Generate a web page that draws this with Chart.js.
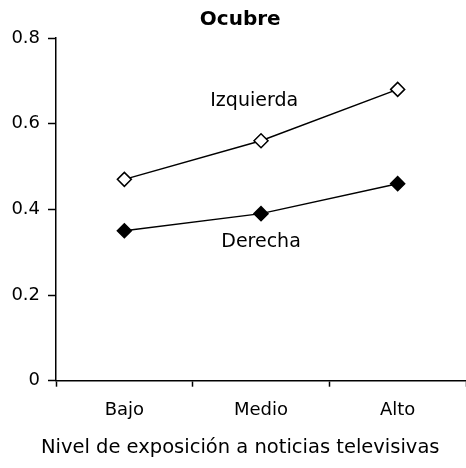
<!DOCTYPE html>
<html lang="es">

<head>
	<meta charset="UTF-8">
	<meta name="viewport" content="width=device-width, initial-scale=1.0">
	<title>Ocubre</title>
	<script src="https://cdn.jsdelivr.net/npm/chart.js"></script>
	<style>
		html, body {
			margin: 0;
			padding: 0;
			background: #ffffff;
		}

		.grafico {
			width: 466px;
			height: 468px;
		}
	</style>
</head>

<body>
	<div class="grafico">
		<canvas id="graficoOcubre" width="466" height="468"></canvas>
	</div>
	<script>
		var categorias = ['Bajo', 'Medio', 'Alto'];
		var izquierda = [0.47, 0.56, 0.68];
		var derecha = [0.35, 0.39, 0.46];
		var ticksY = [0, 0.2, 0.4, 0.6, 0.8];

		var fonte = 'DejaVu Sans';

		// nombres de las series escritos junto a las lineas
		var rotulosSeries = {
			id: 'rotulosSeries',
			afterDatasetsDraw: function (chart) {
				var ctx = chart.ctx;
				var x = chart.scales.x;
				var y = chart.scales.y;
				ctx.save();
				ctx.font = '19px "' + fonte + '"';
				ctx.fillStyle = '#000000';
				ctx.textAlign = 'center';
				ctx.textBaseline = 'middle';
				ctx.fillText(chart.data.datasets[0].label, x.getPixelForValue(0.95), y.getPixelForValue(0.653));
				ctx.fillText(chart.data.datasets[1].label, x.getPixelForValue(1.0), y.getPixelForValue(0.323));
				ctx.restore();
			}
		};

		var ctx = document.getElementById('graficoOcubre').getContext('2d');
		var graficoOcubre = new Chart(ctx, {
			type: 'line',
			data: {
				labels: categorias,
				datasets: [{
					label: 'Izquierda',
					data: izquierda,
					borderColor: '#000000',
					borderWidth: 1.5,
					pointStyle: 'rectRot',
					pointRadius: 7,
					pointBorderWidth: 1.5,
					pointBackgroundColor: '#ffffff',
					pointBorderColor: '#000000'
				}, {
					label: 'Derecha',
					data: derecha,
					borderColor: '#000000',
					borderWidth: 1.5,
					pointStyle: 'rectRot',
					pointRadius: 7,
					pointBorderWidth: 1.5,
					pointBackgroundColor: '#000000',
					pointBorderColor: '#000000'
				}]
			},
			options: {
				responsive: false,
				animation: false,
				layout: {
					// el eje x llega hasta el borde derecho del dibujo
					autoPadding: false,
					padding: { left: 3.4, right: -11, top: 0, bottom: 0 }
				},
				plugins: {
					legend: { display: false },
					tooltip: { enabled: false },
					title: {
						display: true,
						text: 'Ocubre',
						color: '#000000',
						font: { family: fonte, size: 20, weight: 'bold', lineHeight: 1.2 },
						padding: { top: 7.5, bottom: 6.5 }
					},
					// titulo del eje x, centrado en todo el ancho como en el original
					subtitle: {
						display: true,
						position: 'bottom',
						text: 'Nivel de exposición a noticias televisivas',
						color: '#000000',
						font: { family: fonte, size: 19.5, lineHeight: 1.2 },
						padding: { top: 2, bottom: 8.3 }
					}
				},
				scales: {
					x: {
						offset: true,
						border: { display: true, color: '#000000', width: 1.5 },
						grid: {
							offset: true,
							drawOnChartArea: false,
							drawTicks: true,
							tickLength: 6,
							tickWidth: 1.5,
							tickColor: '#000000'
						},
						ticks: {
							color: '#000000',
							padding: 13,
							font: { family: fonte, size: 18, lineHeight: 1.2 }
						}
					},
					y: {
						min: 0,
						max: 0.8,
						afterBuildTicks: function (escala) {
							escala.ticks = ticksY.map(function (v) { return { value: v }; });
						},
						border: { display: true, color: '#000000', width: 1.5 },
						grid: {
							drawOnChartArea: false,
							drawTicks: true,
							tickLength: 8,
							tickWidth: 1.5,
							tickColor: '#000000'
						},
						ticks: {
							color: '#000000',
							padding: 8,
							font: { family: fonte, size: 18, lineHeight: 1.2 },
							callback: function (valor) {
								return valor === 0 ? '0' : valor.toFixed(1);
							}
						}
					}
				}
			},
			plugins: [rotulosSeries]
		});
	</script>
</body>

</html>
